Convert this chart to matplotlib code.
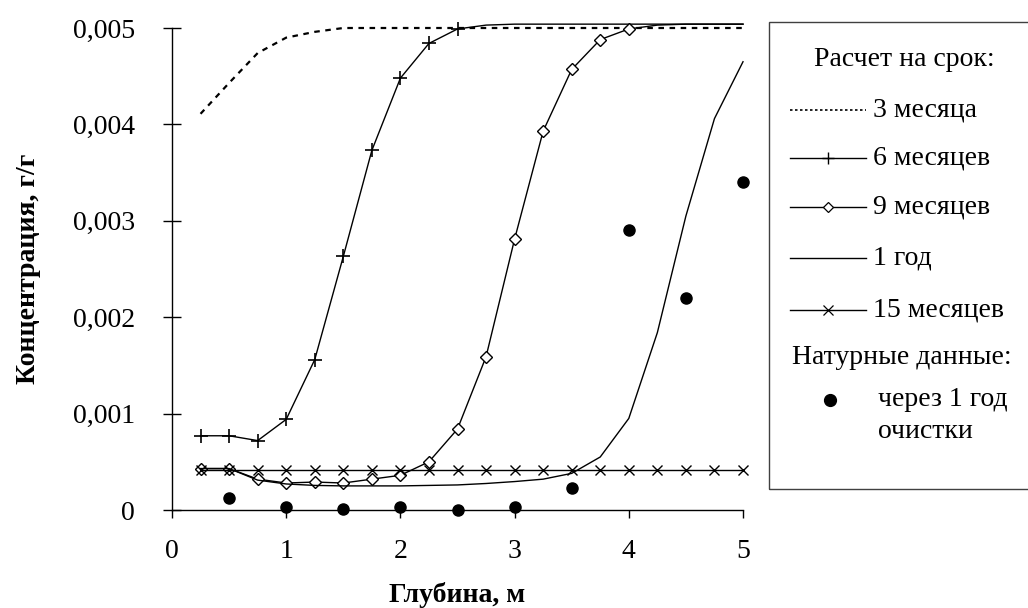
from matplotlib import pyplot as plt
from matplotlib.lines import Line2D
from matplotlib.patches import Rectangle
from matplotlib.ticker import FuncFormatter

plt.rcParams["font.family"] = ["Liberation Serif", "DejaVu Serif"]
plt.rcParams["font.size"] = 20

depth = [0.25, 0.5, 0.75, 1.0, 1.25, 1.5, 1.75, 2.0, 2.25, 2.5,
         2.75, 3.0, 3.25, 3.5, 3.75, 4.0, 4.25, 4.5, 4.75, 5.0]

months_3 = [0.00411, 0.00443, 0.00474, 0.00490, 0.00496, 0.00500, 0.00500,
            0.00500, 0.00500, 0.00500, 0.00500, 0.00500, 0.00500, 0.00500,
            0.00500, 0.00500, 0.00500, 0.00500, 0.00500, 0.00500]
months_6 = [0.00077, 0.00077, 0.00072, 0.00094, 0.00156, 0.00263, 0.00373,
            0.00448, 0.00484, 0.00499, 0.00503, 0.00504, 0.00504, 0.00504,
            0.00504, 0.00504, 0.00504, 0.00504, 0.00504, 0.00504]
months_9 = [0.00043, 0.00043, 0.00032, 0.00028, 0.00029, 0.00028, 0.00032,
            0.00036, 0.00050, 0.00084, 0.00159, 0.00281, 0.00393, 0.00457,
            0.00488, 0.00499, 0.00503, 0.00504, 0.00504, 0.00504]
year_1 = [0.00043, 0.00043, 0.00031, 0.00027, 0.000255, 0.00025, 0.00025,
          0.00025, 0.000255, 0.00026, 0.000275, 0.000295, 0.00032, 0.00038,
          0.00055, 0.00095, 0.00184, 0.00305, 0.00406, 0.00465]
months_15 = [0.00041] * 20

field_depth = [0.5, 1.0, 1.5, 2.0, 2.5, 3.0, 3.5, 4.0, 4.5, 5.0]
field_conc = [0.00012, 0.000035, 0.00001, 0.00003, 0.0, 0.00003,
              0.00023, 0.0029, 0.0022, 0.0034]

W, H = 1028, 608
fig = plt.figure(figsize=(W / 100, H / 100), dpi=100)
ax = fig.add_axes([172 / W, 1 - 510 / H, (743 - 172) / W, (510 - 28) / H])

lw = 1.0
# markers only where the original shows them
mark_6 = [d <= 2.5 for d in depth]
mark_9 = [d <= 4.0 for d in depth]

ax.plot(depth, months_3, color="black", lw=1.6, ls=(0, (2.5, 2.5)), clip_on=False)
ax.plot(depth, months_6, color="black", lw=lw, marker="+", ms=9.5, mew=1.2,
        markevery=mark_6, clip_on=False)
ax.plot(depth, months_9, color="black", lw=lw, marker="D", ms=6, mew=1.0,
        mfc="white", markevery=mark_9, clip_on=False)
ax.plot(depth, year_1, color="black", lw=lw, clip_on=False)
ax.plot(depth, months_15, color="black", lw=lw, marker="x", ms=7.5, mew=1.0,
        clip_on=False)
ax.plot(field_depth, field_conc, ls="none", marker="o", ms=8, color="black",
        clip_on=False, zorder=5)

ax.set_xlim(0, 5)
ax.set_ylim(0, 0.005)
ax.set_xticks([0, 1, 2, 3, 4, 5])
ax.set_yticks([0, 0.001, 0.002, 0.003, 0.004, 0.005])
ax.yaxis.set_major_formatter(FuncFormatter(
    lambda v, _: "0" if v == 0 else f"{v:.3f}".replace(".", ",")))
ax.tick_params(axis="y", direction="inout", length=13, width=1.0, pad=20)
ax.tick_params(axis="x", direction="out", length=6, width=1.0, pad=15)
for s in ["top", "right"]:
    ax.spines[s].set_visible(False)
ax.spines["left"].set_linewidth(1.0)
ax.spines["bottom"].set_linewidth(1.0)

ax.set_xlabel("Глубина, м", fontweight="bold", labelpad=13)
ax.set_ylabel("Концентрация, г/г", fontweight="bold", labelpad=23)

# Hand-made legend box on the right
def fx(px):
    return px / W


def fy(py):
    return 1 - py / H


fig.add_artist(Rectangle((fx(769), fy(489)), fx(1040 - 769), fy(22) - fy(489),
                         transform=fig.transFigure, fill=False,
                         edgecolor="#404040", lw=1.0))
fig.text(fx(904), fy(60), "Расчет на срок:", ha="center", va="center")

entries = [
    ("3 месяца", dict(ls=(0, (1.5, 1.5)), lw=1.2), 110),
    ("6 месяцев", dict(marker="+", ms=9, mew=1.0), 158),
    ("9 месяцев", dict(marker="D", ms=5, mfc="white", mew=0.9), 207),
    ("1 год", dict(), 258),
    ("15 месяцев", dict(marker="x", ms=7, mew=0.9), 310),
]
for label, style, py in entries:
    style.setdefault("lw", lw)
    fig.add_artist(Line2D([fx(790), fx(866)], [fy(py), fy(py)],
                          transform=fig.transFigure, color="black",
                          markevery=[], **style))
    if "marker" in style:
        fig.add_artist(Line2D([fx(828)], [fy(py)], transform=fig.transFigure,
                              color="black", ls="none",
                              **{k: v for k, v in style.items()
                                 if k not in ("ls", "lw")}))
    fig.text(fx(873), fy(py), label, ha="left", va="center")

fig.text(fx(792), fy(357), "Натурные данные:", ha="left", va="center")
fig.add_artist(Line2D([fx(830)], [fy(400)], transform=fig.transFigure,
                      ls="none", marker="o", ms=8.5, color="black"))
fig.text(fx(878), fy(400), "через 1 год", ha="left", va="center")
fig.text(fx(878), fy(432), "очистки", ha="left", va="center")

fig.savefig("out.png", dpi=100)
